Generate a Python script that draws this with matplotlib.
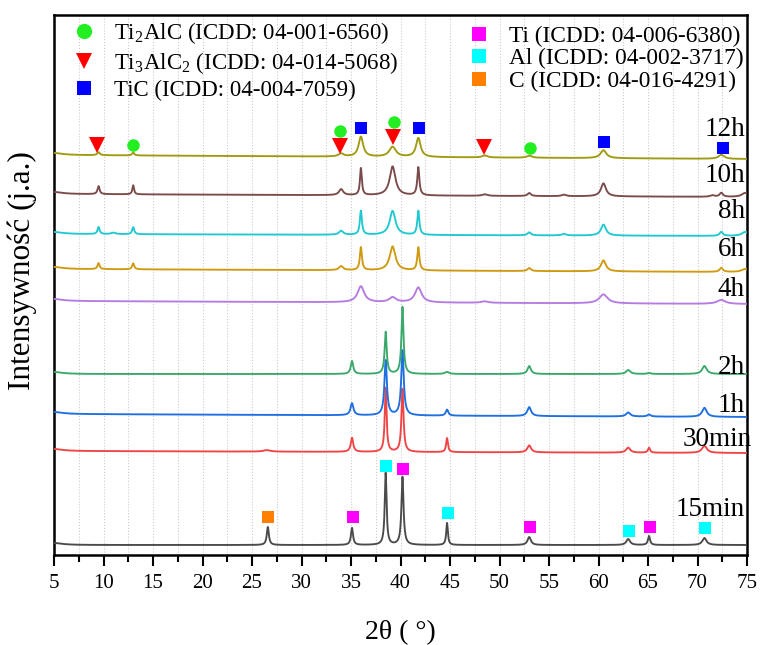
import numpy as np
import matplotlib
matplotlib.use("Agg")
import matplotlib.pyplot as plt
from matplotlib.lines import Line2D
from matplotlib.ticker import MultipleLocator

plt.rcParams['font.family'] = ['Liberation Serif', 'DejaVu Serif']
plt.rcParams['mathtext.fontset'] = 'custom'
plt.rcParams['mathtext.rm'] = 'Liberation Serif'

# ---------------- data ----------------
samples = ["15min", "30min", "1h", "2h", "4h", "6h", "8h", "10h", "12h"]
colors = ["#4a4a4a", "#f04444", "#1f6fe0", "#3aa86a", "#b57be0",
          "#d09a10", "#20c8d0", "#7a4a4a", "#a09a10"]
# stacking offset at 5 deg and at 75 deg (arbitrary intensity units)
offset_start = [10, 104, 141, 181, 254, 286, 321, 361, 400]
offset_end = [10, 102, 138, 181, 251, 283, 319, 358, 396]

# peaks: (2theta, height, FWHM)
peaks_15min = [(5.0, 2, 2.0), (26.6, 18, 0.25), (35.1, 17, 0.25), (38.5, 72, 0.22),
               (40.2, 68, 0.25), (44.7, 22, 0.2), (53.0, 8, 0.4), (63.0, 6, 0.45),
               (65.1, 9, 0.25), (70.7, 7, 0.5)]
peaks_30min = [(5.0, 2, 2.0), (26.5, 1.5, 0.8), (35.1, 14, 0.3), (38.5, 64, 0.22),
               (40.2, 63, 0.25), (44.7, 14, 0.22), (53.0, 7, 0.45), (63.0, 5, 0.5),
               (65.1, 5, 0.25), (70.7, 7, 0.6)]
peaks_1h = [(5.0, 2, 2.0), (35.1, 12, 0.35), (38.5, 55, 0.3), (40.2, 65, 0.3),
            (44.7, 6, 0.3), (53.0, 9, 0.45), (63.0, 4, 0.5), (65.1, 2, 0.4),
            (70.7, 9, 0.55)]
peaks_2h = [(5.0, 2, 2.0), (35.1, 13, 0.3), (38.5, 42, 0.25), (40.2, 67, 0.25),
            (44.7, 2, 0.5), (53.0, 8, 0.4), (63.0, 4, 0.5), (65.1, 1, 0.4),
            (70.7, 8, 0.55)]
peaks_4h = [(5.0, 2, 2.0), (36.0, 16, 0.8), (39.2, 5, 0.8), (41.8, 15, 0.8),
            (48.5, 1.5, 0.8), (60.5, 9, 1.0), (72.4, 4, 1.0)]
peaks_6h = [(5.0, 2, 2.0), (9.5, 6, 0.25), (13.0, 6, 0.25), (34.0, 4, 0.5),
            (36.0, 23, 0.25), (39.2, 24, 0.7), (41.8, 23, 0.25), (53.0, 3, 0.4),
            (60.5, 11, 0.6), (72.4, 4, 0.4), (74.8, 3, 0.8)]
peaks_8h = [(5.0, 2, 2.0), (9.5, 7, 0.25), (11.0, 1.5, 0.5), (13.0, 7, 0.25),
            (34.0, 4, 0.5), (36.0, 24, 0.25), (39.2, 24, 0.7), (41.8, 24, 0.25),
            (53.0, 3, 0.4), (56.5, 1.5, 0.5), (60.5, 11, 0.6), (72.4, 4, 0.4),
            (74.8, 4, 0.8)]
peaks_10h = [(5.0, 2, 2.0), (9.5, 8, 0.25), (13.0, 9, 0.2), (34.0, 6, 0.5),
             (36.0, 27, 0.22), (39.2, 29, 0.7), (41.8, 28, 0.25), (48.5, 1.5, 0.6),
             (53.0, 3, 0.4), (56.5, 1.5, 0.5), (60.5, 13, 0.6), (71.5, 1.5, 0.5),
             (72.4, 4, 0.4), (74.8, 4, 0.8)]
peaks_12h = [(5.0, 2, 2.0), (9.5, 3, 0.3), (13.0, 3, 0.25), (34.0, 3, 0.6),
             (36.0, 20, 0.55), (39.2, 10, 0.8), (41.8, 19, 0.55), (48.5, 2, 0.6),
             (53.0, 2, 0.6), (60.5, 8, 0.7), (72.4, 4, 0.7)]
peak_sets = [peaks_15min, peaks_30min, peaks_1h, peaks_2h, peaks_4h,
             peaks_6h, peaks_8h, peaks_10h, peaks_12h]

# phase markers on the 12h pattern: (2theta, intensity)
ti2alc_pts = [(13.0, 410), (33.9, 424), (39.3, 433), (53.1, 407)]
ti3alc2_pts = [(9.3, 410), (33.9, 409), (39.2, 418), (48.4, 408)]
tic_pts = [(36.0, 427), (41.9, 427), (60.6, 413), (72.6, 407)]
# phase markers on the 15min pattern
ti_pts = [(35.2, 38), (40.3, 86), (53.1, 28), (65.2, 28)]
al_pts = [(38.5, 89), (44.8, 42), (63.1, 24), (70.8, 27)]
c_pts = [(26.6, 38)]

phase_labels_left = [r"Ti$_{\mathregular{2}}$AlC (ICDD: 04-001-6560)",
                     r"Ti$_{\mathregular{3}}$AlC$_{\mathregular{2}}$ (ICDD: 04-014-5068)",
                     "TiC (ICDD: 04-004-7059)"]
phase_labels_right = ["Ti (ICDD: 04-006-6380)", "Al (ICDD: 04-002-3717)",
                      "C (ICDD: 04-016-4291)"]

# ---------------- figure ----------------
fig = plt.figure(figsize=(7.6, 6.45), dpi=100)
ax = fig.add_axes([54 / 760, 90 / 645, 693 / 760, 540 / 645])

x = np.linspace(5, 75, 7001)
for name, col, o0, o1, pk in zip(samples, colors, offset_start, offset_end, peak_sets):
    y = o0 + (o1 - o0) * (x - 5) / 70.0
    for c, h, w in pk:
        y = y + h / (1 + ((x - c) / (w / 2)) ** 2)
    ax.plot(x, y, color=col, lw=1.35, zorder=3)

label_pos = {"12h": (74.8, 425), "10h": (74.8, 380), "8h": (74.8, 343),
             "6h": (74.8, 305), "4h": (74.8, 265), "2h": (74.8, 188),
             "1h": (74.8, 150), "30min": (75.5, 115), "15min": (74.8, 45)}
for name in samples:
    px, py = label_pos[name]
    ax.text(px, py, name, ha="right", va="center", fontsize=19.5, zorder=5,
            clip_on=False)

def draw(pts, marker, color, ms):
    xs = [p[0] for p in pts]
    ys = [p[1] for p in pts]
    ax.plot(xs, ys, ls="none", marker=marker, color=color, ms=ms,
            markeredgewidth=0, zorder=6)

draw(ti2alc_pts, "o", "#22ee22", 9)
draw(ti3alc2_pts, "v", "#ff0000", 11)
draw(tic_pts, "s", "#0000ff", 8.5)
draw(ti_pts, "s", "#ff00ff", 8.5)
draw(al_pts, "s", "#00ffff", 8.5)
draw(c_pts, "s", "#ff7f00", 8.5)

ax.set_xlim(5, 75)
ax.set_ylim(0, 540)
ax.xaxis.set_major_locator(MultipleLocator(5))
ax.xaxis.set_minor_locator(MultipleLocator(2.5))
ax.set_yticks([])
ax.tick_params(axis="x", which="major", direction="out", length=8, width=1.5,
               labelsize=15, pad=6)
ax.tick_params(axis="x", which="minor", direction="out", length=5, width=1.5)
ax.grid(True, axis="x", which="both", color="#cccccc", ls=":", lw=0.8)
for s in ax.spines.values():
    s.set_linewidth(1.8)

ax.set_xlabel("2θ ( °)", fontsize=20, labelpad=19.5)
ax.set_ylabel("Intensywność (j.a.)", fontsize=22.5)
ax.yaxis.set_label_coords(-0.024, 0.526)

h_left = [Line2D([], [], ls="none", marker="o", color="#22ee22", ms=11, markeredgewidth=0),
          Line2D([], [], ls="none", marker="v", color="#ff0000", ms=11.5, markeredgewidth=0),
          Line2D([], [], ls="none", marker="s", color="#0000ff", ms=10, markeredgewidth=0)]
h_right = [Line2D([], [], ls="none", marker="s", color="#ff00ff", ms=10, markeredgewidth=0),
           Line2D([], [], ls="none", marker="s", color="#00ffff", ms=10, markeredgewidth=0),
           Line2D([], [], ls="none", marker="s", color="#ff7f00", ms=10, markeredgewidth=0)]
leg1 = ax.legend(h_left, phase_labels_left, loc="upper left",
                 bbox_to_anchor=(0.0, 1.02), frameon=False, fontsize=16.5,
                 labelspacing=0.17, handlelength=1.2, handletextpad=0.7,
                 borderaxespad=0.3)
ax.add_artist(leg1)
ax.legend(h_right, phase_labels_right, loc="upper left",
          bbox_to_anchor=(0.569, 1.011), frameon=False, fontsize=16.8,
          labelspacing=0.05, handlelength=1.2, handletextpad=0.7,
          borderaxespad=0.3)

fig.savefig("out.png", dpi=100)
